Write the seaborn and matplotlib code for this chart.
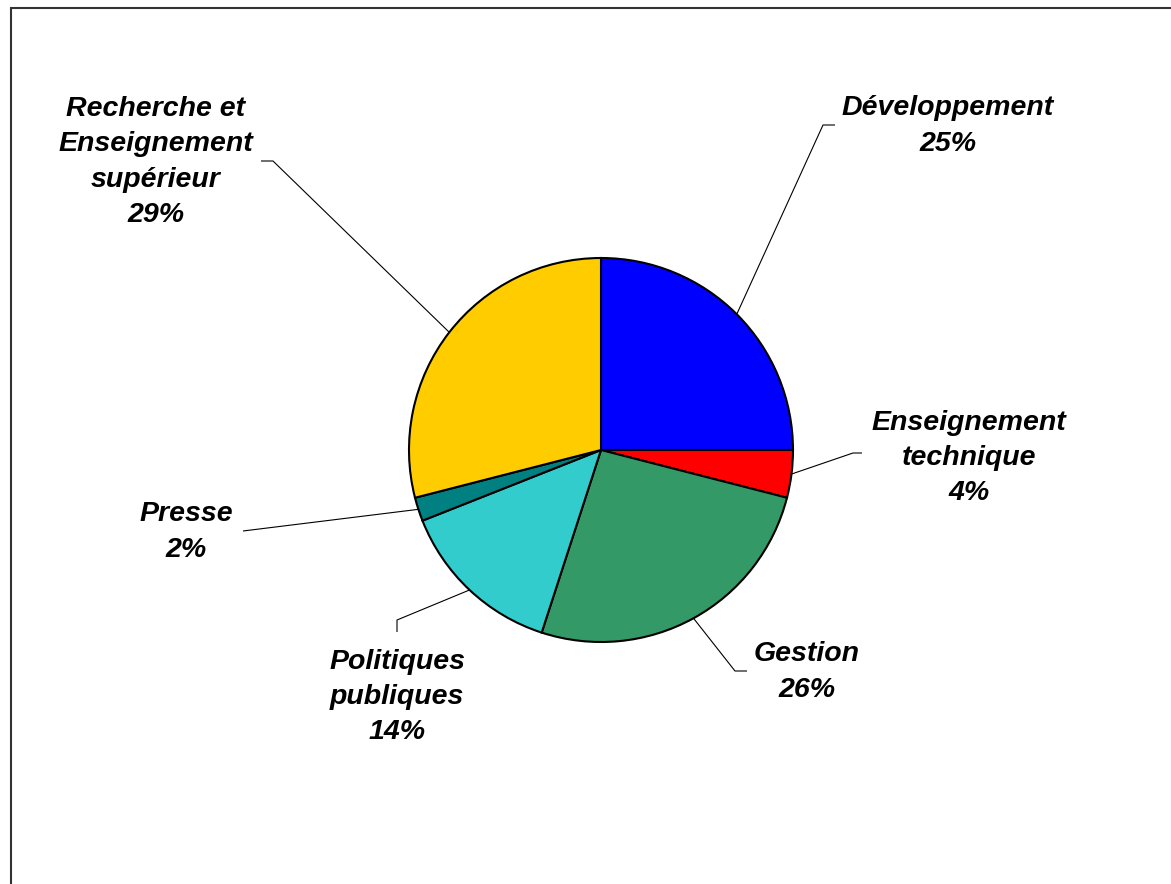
import matplotlib
matplotlib.use("Agg")
import matplotlib.pyplot as plt
from matplotlib.patches import Rectangle
import seaborn as sns
import numpy as np

# ---- data ----
categories = ["Développement", "Enseignement\ntechnique", "Gestion",
              "Politiques\npubliques", "Presse",
              "Recherche et\nEnseignement\nsupérieur"]
values = [25, 4, 26, 14, 2, 29]
colors = ["#0000FF", "#FF0000", "#339966", "#33CCCC", "#008080", "#FFCC00"]

# ---- layout (pixel coordinates, y measured from top) ----
W, H = 1171, 884
center_px = (601, 450)
radius_px = 192
label_pos = [(948, 126), (969, 458), (807, 672), (397, 697), (186, 532), (156, 162)]
# leader line polylines after the wedge point (bend, end)
leader_pts = [
    [(823, 125), (835, 125)],
    [(853, 453), (862, 453)],
    [(735, 671), (747, 671)],
    [(397, 620), (397, 632)],
    [(243, 531)],
    [(273, 161), (261, 161)],
]

sns.set_theme(style="white")
plt.rcParams['font.family'] = ['Liberation Sans', 'DejaVu Sans']

fig = plt.figure(figsize=(W / 100, H / 100), dpi=100)
ax = fig.add_axes([0, 0, 1, 1])

def Y(py):
    return H - py

cx, cy = center_px[0], Y(center_px[1])
wedges, _ = ax.pie(values, colors=colors, startangle=90, counterclock=False,
                   center=(cx, cy), radius=radius_px,
                   wedgeprops=dict(edgecolor='black', linewidth=1.5),
                   frame=True)
ax.set_xlim(0, W)
ax.set_ylim(0, H)
ax.set_aspect('equal')
ax.axis('off')

for w, lab, val, lp, pts in zip(wedges, categories, values, label_pos, leader_pts):
    mid = np.deg2rad((w.theta1 + w.theta2) / 2)
    sx = cx + radius_px * np.cos(mid)
    sy = cy + radius_px * np.sin(mid)
    xs = [sx] + [p[0] for p in pts]
    ys = [sy] + [Y(p[1]) for p in pts]
    ax.plot(xs, ys, color='black', linewidth=0.8, solid_capstyle='butt')
    ax.text(lp[0], Y(lp[1]), f"{lab}\n{val}%", ha='center', va='center',
            fontsize=20.5, fontweight='bold', fontstyle='italic',
            linespacing=1.47, color='black')

# outer frame
ax.add_patch(Rectangle((11, Y(H + 20)), W + 20, (H + 20) - 8, fill=False,
                       edgecolor='#333333', linewidth=1.5, clip_on=False))

fig.savefig("out.png", dpi=100)
